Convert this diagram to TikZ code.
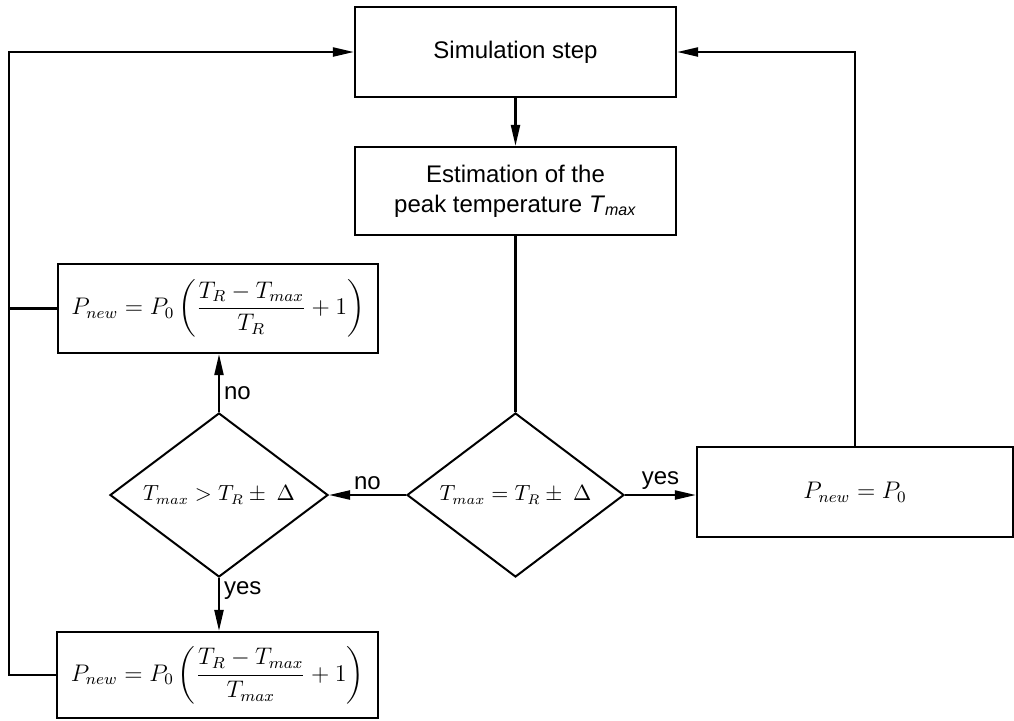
\documentclass[tikz,border=0pt]{standalone}
\usepackage{amsmath}
\usepackage{fontspec}
\setmainfont{Liberation Sans}
\usetikzlibrary{shapes.geometric,arrows.meta}
\begin{document}
\begin{tikzpicture}[x=0.5pt,y=-0.5pt,
  box/.style={draw,line width=1.1pt,rectangle,inner sep=0pt,align=center,font=\fontsize{12}{15}\selectfont},
  mbox/.style={box,font=\fontsize{11.5}{15}\selectfont},
  dec/.style={draw,line width=1pt,diamond,inner sep=0pt,aspect=1.33,font=\fontsize{10.5}{14}\selectfont},
  conn/.style={line width=1.1pt},
  arr/.style={conn,-{Triangle[length=10.5pt,width=4.5pt]}},
  lbl/.style={font=\fontsize{12}{14}\selectfont,inner sep=2pt}]
\useasboundingbox (0,0) rectangle (1014,720);
\node[box,minimum width=160.5pt,minimum height=45pt] (sim) at (515.5,52) {Simulation step};
\node[box,minimum width=160.5pt,minimum height=44pt] (est) at (515.5,191) {Estimation of the\\peak temperature \textit{T}\textsubscript{\textit{max}}};
\node[mbox,minimum width=160pt,minimum height=44.5pt] (ptop) at (218,308.5) {$P_{new} = P_0\left(\dfrac{T_R - T_{max}}{T_R} + 1\right)$};
\node[mbox,minimum width=160.5pt,minimum height=43pt] (pbot) at (217.5,675) {$P_{new} = P_0\left(\dfrac{T_R - T_{max}}{T_{max}} + 1\right)$};
\node[dec,minimum width=109pt,minimum height=82pt] (d2) at (219,495) {$T_{max} > T_R \pm\ \Delta$};
\node[dec,minimum width=108.5pt,minimum height=82pt] (d1) at (515.5,495) {$T_{max} = T_R \pm\ \Delta$};
\node[mbox,minimum width=158pt,minimum height=45pt] (pr) at (855,492) {$P_{new} = P_0$};
\coordinate (lt) at (9,52);
\draw[arr] (sim) -- (est);
\draw[conn] (est) -- (d1.north);
\draw[arr] (d1.west) -- (d2.east) node[lbl,midway,above] {no};
\draw[arr] (d1.east) -- (d1.east -| pr.west) node[lbl,midway,above] {yes};
\draw[arr] (d2.north) -- (d2.north |- ptop.south) node[lbl,pos=0.33,right] {no};
\draw[arr] (d2.south) -- (d2.south |- pbot.north) node[lbl,pos=0.24,right] {yes};
\draw[arr] (pbot.west) -- (pbot.west -| lt) -- (lt) -- (sim.west);
\draw[conn] (ptop.west) -- (ptop.west -| lt);
\draw[arr] (pr.north) |- (sim.east);
\end{tikzpicture}
\end{document}
